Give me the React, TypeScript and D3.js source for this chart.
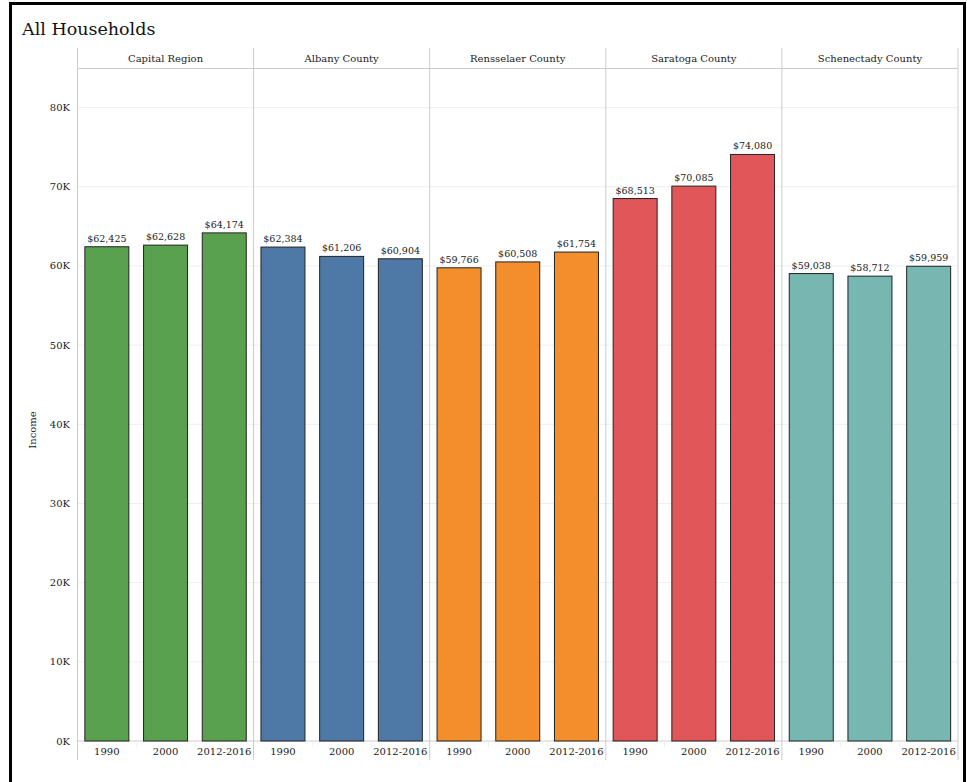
import * as d3 from "d3";

const regions = ["Capital Region", "Albany County", "Rensselaer County", "Saratoga County", "Schenectady County"];
const years = ["1990", "2000", "2012-2016"];
const colors = ["#59A14F", "#4E79A7", "#F28E2B", "#E15759", "#76B7B2"];
const capital = [62425, 62628, 64174];
const albany = [62384, 61206, 60904];
const rensselaer = [59766, 60508, 61754];
const saratoga = [68513, 70085, 74080];
const schenectady = [59038, 58712, 59959];
const yTicks = [0, 10000, 20000, 30000, 40000, 50000, 60000, 70000, 80000];

const series = [capital, albany, rensselaer, saratoga, schenectady];

const W = 967;
const H = 782;
const left = 77.5;
const right = 958;
const headTop = 48;
const plotTop = 68;
const base = 741;
const axisBottom = 760;
const font = "'DejaVu Serif', serif";

const App = () => {
  const x = d3.scaleBand<string>().domain(regions).range([left, right]);
  const inner = d3.scaleBand<string>().domain(years).range([0, x.bandwidth()]).padding(0);
  const barW = 44;
  const y = d3.scaleLinear().domain([0, 85000]).range([base, plotTop]);
  const fmt = d3.format("$,");

  return (
    <svg width={W} height={H} style={{ position: "absolute", left: 0, top: 0, background: "#fff" }}>
      <rect x={10.5} y={3.5} width={954} height={790} fill="none" stroke="#000" strokeWidth={3} />
      <text x={22} y={35} fontFamily={font} fontSize={17.5} fill="#111">All Households</text>

      {/* gridlines */}
      {yTicks.map((t) => (
        <line key={t} x1={left} x2={right} y1={y(t)} y2={y(t)} stroke={t === 0 ? "#ccc" : "#efefef"} strokeWidth={1} />
      ))}
      <line x1={left} x2={right} y1={plotTop + 0.5} y2={plotTop + 0.5} stroke="#ccc" />

      {/* panel dividers */}
      {regions.map((r) => (
        <line key={r} x1={x(r)!} x2={x(r)!} y1={headTop} y2={axisBottom} stroke="#ccc" />
      ))}
      <line x1={right} x2={right} y1={headTop} y2={axisBottom} stroke="#ccc" />

      {/* y axis */}
      {yTicks.map((t) => (
        <text key={t} x={70} y={y(t) + 3.5} textAnchor="end" fontFamily={font} fontSize={10} fill="#222">
          {t / 1000 + "K"}
        </text>
      ))}
      <text transform={`translate(36,430) rotate(-90)`} textAnchor="middle" fontFamily={font} fontSize={10} fill="#222">
        Income
      </text>

      {regions.map((r, i) => {
        const x0 = x(r)!;
        return (
          <g key={r}>
            <text x={x0 + x.bandwidth() / 2} y={62} textAnchor="middle" fontFamily={font} fontSize={10} fill="#222">
              {r}
            </text>
            {years.map((yr, j) => {
              const v = series[i][j];
              const cx = x0 + inner(yr)! + inner.bandwidth() / 2;
              return (
                <g key={yr}>
                  {j > 0 && (
                    <line x1={x0 + inner(yr)!} x2={x0 + inner(yr)!} y1={base} y2={base + 6} stroke="#eee" />
                  )}
                  <rect x={cx - barW / 2} y={y(v)} width={barW} height={base - y(v)} fill={colors[i]} stroke="#222" strokeWidth={1} />
                  <text x={cx} y={y(v) - 5} textAnchor="middle" fontFamily={font} fontSize={9.5} fill="#222">
                    {fmt(v)}
                  </text>
                  <text x={cx} y={755} textAnchor="middle" fontFamily={font} fontSize={10} fill="#222">
                    {yr}
                  </text>
                </g>
              );
            })}
          </g>
        );
      })}
    </svg>
  );
};

export default App;
